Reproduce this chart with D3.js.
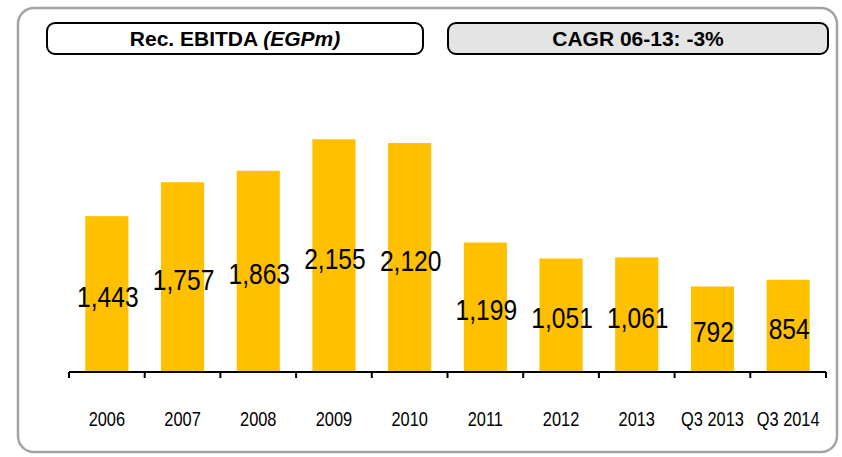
<!DOCTYPE html>
<html>
<head>
<meta charset="utf-8">
<script src="https://cdn.jsdelivr.net/npm/d3@7/dist/d3.min.js"></script>
<style>
  html, body { margin: 0; padding: 0; background: #ffffff; }
  svg { display: block; }
</style>
</head>
<body>
<script>
// Recurring EBITDA, EGP millions
const categories = ["2006", "2007", "2008", "2009", "2010", "2011", "2012", "2013", "Q3 2013", "Q3 2014"];
const values = [1443, 1757, 1863, 2155, 2120, 1199, 1051, 1061, 792, 854];
const titleMain = "Rec. EBITDA ";
const titleUnit = "(EGPm)";
const cagrLabel = "CAGR 06-13: -3%";

const W = 842, H = 457;
const narrow = 0.82; // horizontal squeeze for a condensed face

const svg = d3.select("body").append("svg")
  .attr("width", W).attr("height", H);

// Outer rounded panel
svg.append("rect")
  .attr("x", 18).attr("y", 8).attr("width", 819).attr("height", 444)
  .attr("rx", 16).attr("ry", 16)
  .attr("fill", "#ffffff").attr("stroke", "#a3a3a3").attr("stroke-width", 2.5);

// Header boxes
const headers = [
  { x: 47, w: 376, fill: "#ffffff" },
  { x: 448, w: 380, fill: "#e4e4e4" }
];
headers.forEach(h => {
  svg.append("rect")
    .attr("x", h.x).attr("y", 23).attr("width", h.w).attr("height", 31)
    .attr("rx", 8).attr("ry", 8)
    .attr("fill", h.fill).attr("stroke", "#000").attr("stroke-width", 2);
});

const t1 = svg.append("text")
  .attr("x", headers[0].x + headers[0].w / 2).attr("y", 46)
  .attr("text-anchor", "middle")
  .attr("font-family", "Liberation Sans, Arial, sans-serif")
  .attr("font-size", 21).attr("font-weight", "bold").attr("fill", "#000");
t1.append("tspan").text(titleMain);
t1.append("tspan").attr("font-style", "italic").text(titleUnit);

svg.append("text")
  .attr("x", headers[1].x + headers[1].w / 2).attr("y", 46)
  .attr("text-anchor", "middle")
  .attr("font-family", "Liberation Sans, Arial, sans-serif")
  .attr("font-size", 21).attr("font-weight", "bold").attr("fill", "#000")
  .text(cagrLabel);

// Scales
const x0 = 69, x1 = 826, baseY = 372;
const xBand = d3.scaleBand().domain(categories).range([x0, x1])
  .paddingInner(0.43).paddingOuter(0.215);
const xSlot = d3.scaleBand().domain(categories).range([x0, x1]).padding(0);
const y = d3.scaleLinear().domain([0, 2500]).range([baseY, 102]);

// Bars
svg.append("g").selectAll("rect").data(values).join("rect")
  .attr("x", (d, i) => xBand(categories[i]))
  .attr("y", d => y(d))
  .attr("width", xBand.bandwidth())
  .attr("height", d => y(0) - y(d))
  .attr("fill", "#FFC000");

// Value labels, placed at mid-bar
const fmt = d3.format(",");
svg.append("g").selectAll("text").data(values).join("text")
  .attr("transform", (d, i) => {
    const cx = xBand(categories[i]) + xBand.bandwidth() / 2 + 1;
    const cy = (y(d) + y(0)) / 2 + 13;
    return `translate(${cx},${cy}) scale(${narrow},1)`;
  })
  .attr("text-anchor", "middle")
  .attr("font-family", "Liberation Sans, Arial, sans-serif")
  .attr("font-size", 30).attr("fill", "#000")
  .text(d => fmt(d));

// Category axis with ticks at slot boundaries
const axis = svg.append("g");
axis.append("line")
  .attr("x1", x0).attr("x2", x1).attr("y1", baseY).attr("y2", baseY)
  .attr("stroke", "#000").attr("stroke-width", 2);
const bounds = categories.map(c => xSlot(c)).concat([x1]);
axis.selectAll("line.tick").data(bounds).join("line")
  .attr("class", "tick")
  .attr("x1", d => d).attr("x2", d => d)
  .attr("y1", baseY).attr("y2", baseY + 6)
  .attr("stroke", "#000").attr("stroke-width", 2);

axis.selectAll("text").data(categories).join("text")
  .attr("transform", d => `translate(${xSlot(d) + xSlot.bandwidth() / 2},426) scale(${narrow},1)`)
  .attr("text-anchor", "middle")
  .attr("font-family", "Liberation Sans, Arial, sans-serif")
  .attr("font-size", 20).attr("fill", "#000")
  .text(d => d);
</script>
</body>
</html>
